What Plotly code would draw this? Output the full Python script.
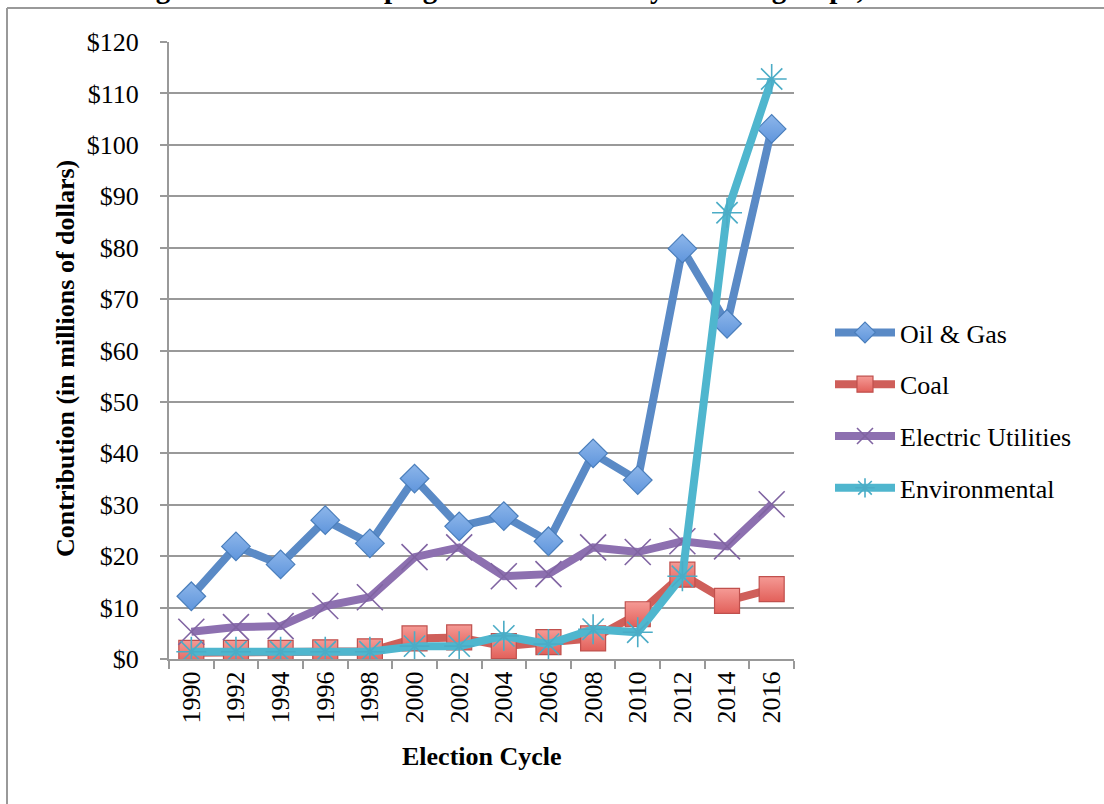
import plotly.graph_objects as go

years = ["1990", "1992", "1994", "1996", "1998", "2000", "2002", "2004",
         "2006", "2008", "2010", "2012", "2014", "2016"]
oil_gas = [12.2, 21.9, 18.4, 27.0, 22.5, 35.1, 25.8, 27.8, 22.9, 40.0, 34.8, 79.8, 65.2, 103.1]
coal = [1.2, 1.2, 1.2, 1.3, 1.5, 4.0, 4.2, 2.5, 3.3, 4.0, 8.7, 16.4, 11.3, 13.6]
electric = [5.3, 6.2, 6.4, 10.3, 12.0, 19.8, 21.7, 16.1, 16.5, 21.7, 20.8, 22.9, 21.9, 30.1]
environmental = [1.4, 1.4, 1.4, 1.4, 1.4, 2.5, 2.5, 4.5, 2.9, 5.8, 5.2, 16.1, 86.8, 112.8]
y_ticks = [0, 10, 20, 30, 40, 50, 60, 70, 80, 90, 100, 110, 120]
y_tick_labels = ["$" + str(v) for v in y_ticks]

SERIF = "Liberation Serif, Times New Roman, serif"
W, H = 1104, 804
L, R, T, B = 169, 310, 42, 145
PW, PH = W - L - R, H - T - B


def px_x(p):
    return (p - L) / PW


def px_y(p):
    return (H - B - p) / PH


fig = go.Figure()

fig.add_trace(go.Scatter(
    x=years, y=oil_gas, name="Oil & Gas", mode="lines+markers", legendgroup="a",
    line=dict(color="#5A8AC6", width=8),
    marker=dict(symbol="diamond", size=22, color="#8DB6EA",
                gradient=dict(type="vertical", color="#5F95DC"),
                line=dict(color="#4A7EBB", width=1.2)),
))
fig.add_trace(go.Scatter(
    x=years, y=coal, name="Coal", mode="lines+markers", legendgroup="b",
    line=dict(color="#CF5F5A", width=8),
    marker=dict(symbol="square", size=25, color="#F59A95",
                gradient=dict(type="vertical", color="#E2605A"),
                line=dict(color="#C0504D", width=1.2)),
))
fig.add_trace(go.Scatter(
    x=years, y=electric, name="Electric Utilities", mode="lines+markers", legendgroup="c",
    line=dict(color="#8D70B0", width=8),
    marker=dict(symbol="x-thin", size=26, color="#8064A2",
                line=dict(color="#8064A2", width=1.6)),
))
fig.add_trace(go.Scatter(
    x=years, y=environmental, name="Environmental", mode="lines+markers", legendgroup="d",
    line=dict(color="#4FB6CE", width=8),
    marker=dict(symbol="asterisk", size=25, color="#4BACC6",
                line=dict(color="#4BACC6", width=1.6)),
))

fig.update_layout(
    width=W, height=H,
    margin=dict(l=L, r=R, t=T, b=B),
    paper_bgcolor="white", plot_bgcolor="white",
    font=dict(family=SERIF, size=26, color="black"),
    showlegend=True,
    legend=dict(x=px_x(830), y=px_y(309), xanchor="left", yanchor="top",
                font=dict(family=SERIF, size=26, color="black"),
                tracegroupgap=15, bgcolor="rgba(0,0,0,0)", itemwidth=60),
    xaxis=dict(type="category", tickangle=-90, tickson="boundaries",
               ticks="outside", ticklen=8, tickcolor="#999999", tickwidth=1.5,
               showline=True, linecolor="#999999", linewidth=2,
               showgrid=False, tickfont=dict(family=SERIF, size=26),
               range=[-0.5, 13.5]),
    yaxis=dict(range=[0, 120], tickvals=y_ticks, ticktext=y_tick_labels,
               ticks="outside", ticklen=7, tickcolor="#999999", tickwidth=1.5,
               showline=True, linecolor="#999999", linewidth=2,
               showgrid=True, gridcolor="#999999", gridwidth=1.5,
               zeroline=False, ticklabelstandoff=16,
               tickfont=dict(family=SERIF, size=26)),
    shapes=[
        dict(type="line", xref="paper", yref="paper",
             x0=px_x(7), x1=px_x(1110), y0=px_y(8), y1=px_y(8),
             line=dict(color="#999999", width=2)),
        dict(type="line", xref="paper", yref="paper",
             x0=px_x(7), x1=px_x(7), y0=px_y(8), y1=px_y(810),
             line=dict(color="#999999", width=2)),
    ],
    annotations=[
        dict(text="<b>Election Cycle</b>", xref="paper", yref="paper",
             x=px_x(482), y=px_y(756), xanchor="center", yanchor="middle",
             showarrow=False, font=dict(family=SERIF, size=26, color="black")),
        dict(text="<b>Contribution (in millions of dollars)</b>", xref="paper", yref="paper",
             x=px_x(65), y=px_y(359), xanchor="center", yanchor="middle", textangle=-90,
             showarrow=False, font=dict(family=SERIF, size=26, color="black")),
        dict(text="<b>Figure 10. Total campaign contributions by interest groups, 1990-2016.</b>",
             xref="paper", yref="paper",
             x=px_x(567), y=px_y(6), xanchor="center", yanchor="bottom",
             showarrow=False, font=dict(family=SERIF, size=29, color="black")),
    ],
)

fig.write_html("out.html", config={"displayModeBar": False},
               post_script="document.body.style.margin='0px';")
